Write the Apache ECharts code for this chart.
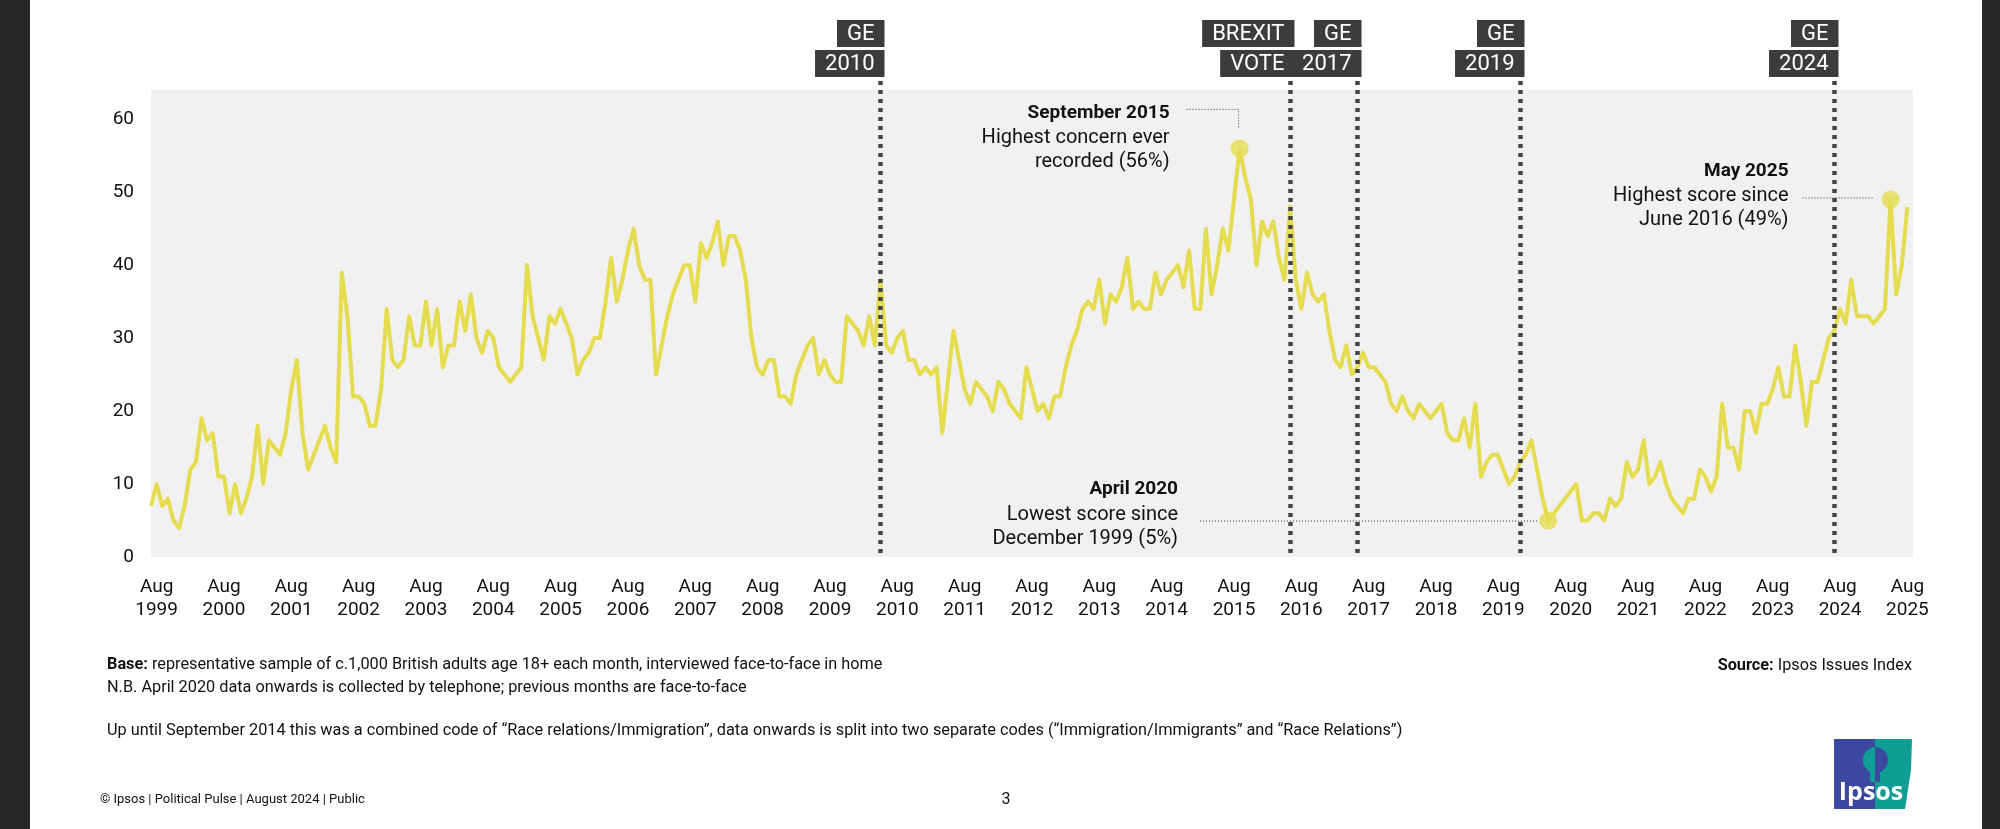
<!DOCTYPE html>
<html><head><meta charset="utf-8">
<script src="https://cdn.jsdelivr.net/npm/echarts@6/dist/echarts.min.js"></script>
<style>html,body{margin:0;padding:0;background:#fff}#c{width:2000px;height:829px}</style>
</head><body><div id="c"></div>
<script>
// ---------- DATA ----------
const monthNames = ['Jan','Feb','Mar','Apr','May','Jun','Jul','Aug','Sep','Oct','Nov','Dec'];
// categories: Jul 1999 .. Sep 2025 (monthly)
const categories = [];
for (let y = 1999; y <= 2025; y++) {
  for (let m = 0; m < 12; m++) {
    if (y === 1999 && m < 6) continue;
    if (y === 2025 && m > 8) break;
    categories.push(monthNames[m] + ' ' + y);
  }
}
// % naming immigration as an important issue
const concern = [
  /*1999 Jul-Dec*/ 7,10,7,8,5,4,
  /*2000*/ 7,12,13,19,16,17,11,11,6,10,6,8,
  /*2001*/ 11,18,10,16,15,14,17,23,27,17,12,14,
  /*2002*/ 16,18,15,13,39,33,22,22,21,18,18,23,
  /*2003*/ 34,27,26,27,33,29,29,35,29,34,26,29,
  /*2004*/ 29,35,31,36,30,28,31,30,26,25,24,25,
  /*2005*/ 26,40,33,30,27,33,32,34,32,30,25,27,
  /*2006*/ 28,30,30,35,41,35,38,42,45,40,38,38,
  /*2007*/ 25,29,33,36,38,40,40,35,43,41,43,46,
  /*2008*/ 40,44,44,42,38,30,26,25,27,27,22,22,
  /*2009*/ 21,25,27,29,30,25,27,25,24,24,33,32,
  /*2010*/ 31,29,33,29,38,29,28,30,31,27,27,25,
  /*2011*/ 26,25,26,17,24,31,27,23,21,24,23,22,
  /*2012*/ 20,24,23,21,20,19,26,23,20,21,19,22,
  /*2013*/ 22,26,29,31,34,35,34,38,32,36,35,37,
  /*2014*/ 41,34,35,34,34,39,36,38,39,40,37,42,
  /*2015*/ 34,34,45,36,40,45,42,49,56,52,49,40,
  /*2016*/ 46,44,46,41,38,48,38,34,39,36,35,36,
  /*2017*/ 31,27,26,29,25,26,28,26,26,25,24,21,
  /*2018*/ 20,22,20,19,21,20,19,20,21,17,16,16,
  /*2019*/ 19,15,21,11,13,14,14,12,10,11,13,14,
  /*2020*/ 16,12,8,5,6,7,8,9,10,5,5,6,
  /*2021*/ 6,5,8,7,8,13,11,12,16,10,11,13,
  /*2022*/ 10,8,7,6,8,8,12,11,9,11,21,15,
  /*2023*/ 15,12,20,20,17,21,21,23,26,22,22,29,
  /*2024*/ 24,18,24,24,27,30,31,34,32,38,33,33,
  /*2025 Jan-Sep*/ 33,32,33,34,49,36,40,48,null
];
const yTicks = [0,10,20,30,40,50,60];
const eventMonths = ['May 2010','Jun 2016','Jun 2017','Nov 2019','Jul 2024'];
const eventLabels = [['GE','2010'],['BREXIT','VOTE'],['GE','2017'],['GE','2019'],['GE','2024']];
const highlightMonths = ['Sep 2015','Apr 2020','May 2025'];
const highlightTexts = [
  ['September 2015','Highest concern ever','recorded (56%)'],
  ['April 2020','Lowest score since','December 1999 (5%)'],
  ['May 2025','Highest score since','June 2016 (49%)']
];

// ---------- CHART ----------
const YELLOW = '#e6dc50';
const FONT = 'Roboto, "Noto Sans", sans-serif';
const chart = echarts.init(document.getElementById('c'), null, {renderer:'canvas'});
const highlightData = highlightMonths.map(m => [m, concern[categories.indexOf(m)]]);

chart.setOption({
  animation: false,
  backgroundColor: '#ffffff',
  grid: {left: 151, right: 87, top: 90, bottom: 272, show: true, backgroundColor: '#f1f1f1', borderWidth: 0},
  xAxis: {
    type: 'category', data: categories, boundaryGap: false,
    axisLine: {show: false}, axisTick: {show: false}, splitLine: {show: false},
    axisLabel: {
      interval: (i, v) => v.indexOf('Aug') === 0,
      formatter: v => v.replace(' ', '\n'),
      fontFamily: FONT, fontSize: 19, lineHeight: 23, color: '#111', margin: 19
    }
  },
  yAxis: {
    type: 'value', min: 0, max: 64, interval: 10,
    axisLine: {show: false}, axisTick: {show: false}, splitLine: {show: false},
    axisLabel: {
      formatter: v => (yTicks.indexOf(v) >= 0 ? String(v) : ''),
      showMaxLabel: false,
      fontFamily: FONT, fontSize: 19, color: '#111', margin: 17
    }
  },
  series: [
    {type: 'line', data: concern, symbol: 'none', connectNulls: false,
     lineStyle: {color: YELLOW, width: 4, join: 'round'}, z: 3},
    {type: 'scatter', data: highlightData, symbol: 'circle', symbolSize: 18,
     itemStyle: {color: YELLOW}, z: 4}
  ]
});

// ---------- ANNOTATIONS (positions derived from the axes) ----------
const g = [];
// page side strips
g.push({type:'rect', shape:{x:0,y:0,width:30,height:829}, style:{fill:'#262626'}, z:100});
g.push({type:'rect', shape:{x:1982,y:0,width:18,height:829}, style:{fill:'#262626'}, z:100});

// election / event lines + labels
eventMonths.forEach((m, i) => {
  const x = Math.round(chart.convertToPixel({xAxisIndex:0}, m)) + 0.5;
  g.push({type:'line', shape:{x1:x, y1:81, x2:x, y2:553},
    style:{stroke:'#454545', lineWidth:4.5, lineDash:[4,5]}, z:50});
  eventLabels[i].forEach((t, r) => {
    g.push({type:'text', x: x + 4, y: 20 + r * 30, z: 60,
      style:{text:t, fill:'#fff', font:'400 22px ' + FONT, align:'right', verticalAlign:'top',
        backgroundColor:'#3c3c3c', padding:[3,10,1,10], lineHeight:23}});
  });
});

const dotted = {stroke:'#333', lineWidth:1, lineDash:[1,2]};
function textBlock(lines, right, yc){
  lines.forEach((t, k) => {
    g.push({type:'text', x: right, y: yc[k], z: 70,
      style:{text:t, fill:'#111', font:(k===0?'700 19px ':'400 20px ') + FONT,
        align:'right', verticalAlign:'middle'}});
  });
}
const p0 = chart.convertToPixel({seriesIndex:1}, highlightData[0]);
const p1 = chart.convertToPixel({seriesIndex:1}, highlightData[1]);
const p2 = chart.convertToPixel({seriesIndex:1}, highlightData[2]);
// Sep 2015
textBlock(highlightTexts[0], p0[0] - 70, [p0[1]-35, p0[1]-10, p0[1]+14]);
g.push({type:'polyline', shape:{points:[[p0[0]-53, p0[1]-39],[p0[0]-1, p0[1]-39],[p0[0]-1, p0[1]-20]]}, style:Object.assign({fill:null}, dotted), z:70});
// Apr 2020
textBlock(highlightTexts[1], 1178, [p1[1]-31, p1[1]-6, p1[1]+18]);
g.push({type:'line', shape:{x1:1200, y1:p1[1]+0.5, x2:p1[0]-10, y2:p1[1]+0.5}, style:dotted, z:70});
// May 2025
textBlock(highlightTexts[2], p2[0] - 102, [p2[1]-28, p2[1]-3, p2[1]+21]);
g.push({type:'line', shape:{x1:p2[0]-88, y1:p2[1]-1.5, x2:p2[0]-17, y2:p2[1]-1.5}, style:dotted, z:70});

// footnotes
const NOTE_FONT = '16.3px ' + FONT;
const richB = {b:{fontWeight:'bold', fontSize:16.3, fontFamily:FONT, fill:'#111'}};
g.push({type:'text', x:107, y:665, style:{text:'{b|Base:} representative sample of c.1,000 British adults age 18+ each month, interviewed face-to-face in home',
  font: NOTE_FONT, fill:'#111', verticalAlign:'middle', rich:richB}});
g.push({type:'text', x:107, y:688, style:{text:'N.B. April 2020 data onwards is collected by telephone; previous months are face-to-face',
  font: NOTE_FONT, fill:'#111', verticalAlign:'middle'}});
g.push({type:'text', x:107, y:731, style:{text:'Up until September 2014 this was a combined code of \u201CRace relations/Immigration\u201D, data onwards is split into two separate codes (\u201CImmigration/Immigrants\u201D and \u201CRace Relations\u201D)',
  font: NOTE_FONT, fill:'#111', verticalAlign:'middle'}});
g.push({type:'text', x:1912, y:666, style:{text:'{b|Source:} Ipsos Issues Index', font: NOTE_FONT, fill:'#111', align:'right', verticalAlign:'middle',
  rich:richB}});
g.push({type:'text', x:100, y:800, style:{text:'\u00A9 Ipsos | Political Pulse | August 2024 | Public', font:'13px ' + FONT, fill:'#111', verticalAlign:'middle'}});
g.push({type:'text', x:1006, y:800, style:{text:'3', font:'16px ' + FONT, fill:'#111', align:'center', verticalAlign:'middle'}});

// Ipsos logo
g.push({type:'polygon', shape:{points:[[1834,739],[1875,739],[1875,809],[1834,809]]}, style:{fill:'#3a48a0'}, z:80});
g.push({type:'polygon', shape:{points:[[1875,739],[1912,739],[1911,770],[1905,809],[1875,809]]}, style:{fill:'#0f9e94'}, z:80});
g.push({type:'sector', shape:{cx:1876, cy:760, r0:0, r:13, startAngle:Math.PI/2, endAngle:Math.PI*1.5}, style:{fill:'#0f9e94'}, z:81});
g.push({type:'sector', shape:{cx:1875, cy:760, r0:0, r:13, startAngle:-Math.PI/2, endAngle:Math.PI/2}, style:{fill:'#3a48a0'}, z:81});
g.push({type:'rect', shape:{x:1870, y:770, width:5, height:12}, style:{fill:'#0f9e94'}, z:81});
g.push({type:'rect', shape:{x:1875, y:770, width:5, height:12}, style:{fill:'#3a48a0'}, z:81});
g.push({type:'text', x:1871, y:793, z:82, style:{text:'Ipsos', font:'700 25px "Open Sans", ' + FONT, fill:'#fff', align:'center', verticalAlign:'middle'}});

chart.setOption({graphic: g});
</script>
</body></html>
